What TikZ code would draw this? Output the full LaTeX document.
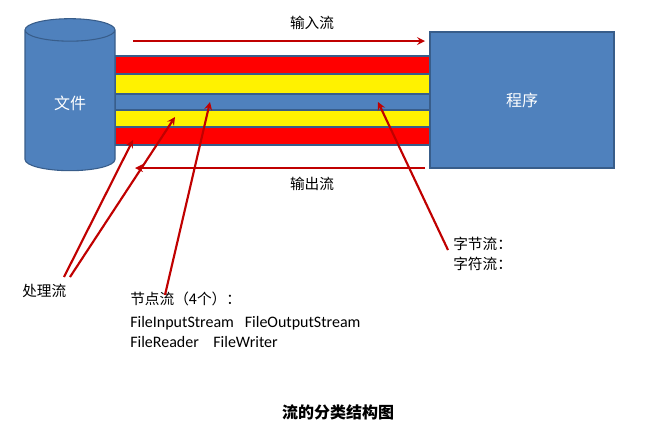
\documentclass[tikz,border=0pt]{standalone}
\usepackage{fontspec}
\setmainfont{Carlito}
\newfontfamily\cjk{Noto Sans CJK SC}
\usetikzlibrary{shapes.geometric}
\definecolor{boxblue}{RGB}{79,129,189}
\definecolor{boxedge}{RGB}{56,93,138}
\definecolor{arrred}{RGB}{192,0,0}
\tikzset{
  stripe/.style={draw=boxedge, line width=0.8pt},
  flow/.style={->, >=stealth, draw=arrred, line width=1.6pt},
  lbl/.style={font=\cjk\fontsize{11}{13}\selectfont, inner sep=0pt}
}
\begin{document}
\begin{tikzpicture}[x=0.75pt, y=-0.75pt]
    \useasboundingbox (0,0) rectangle (648,433);
    % stripes
    \filldraw[stripe, fill=red] (115,56) rectangle (430,74);
    \filldraw[stripe, fill=yellow] (115,74) rectangle (430,94);
    \filldraw[stripe, fill=boxblue] (115,94) rectangle (430,110);
    \filldraw[stripe, fill=yellow] (115,110) rectangle (430,127);
    \filldraw[stripe, fill=red] (115,127) rectangle (430,145);
    % file cylinder
    \node (file) [cylinder, shape border rotate=90, aspect=0.55, draw=boxedge, fill=boxblue, line width=0.8pt,
        minimum width=67.5pt, minimum height=114pt, text=white, font=\cjk\fontsize{12}{14}\selectfont]
        at (70,103) {文件};
    % program box
    \node (prog) [draw=boxedge, fill=boxblue, line width=0.8pt, minimum width=138pt, minimum height=102pt,
        text=white, font=\cjk\fontsize{12}{14}\selectfont] at (522,100) {程序};
    % input / output arrows
    \coordinate (inA) at (133,41);
    \coordinate (inB) at (425,41);
    \coordinate (outA) at (425,168);
    \coordinate (outB) at (135,168);
    \draw[flow] (inA) -- (inB);
    \draw[flow] (outA) -- (outB);
    \node (inlbl) [lbl] at (312,23) {输入流};
    \node (outlbl) [lbl] at (312,184) {输出流};
    % labels
    \node (proc) [lbl, anchor=west] at (22,291) {处理流};
    \node (nodef) [lbl, anchor=north west, align=left] at (130,292)
        {节点流（4个）：\\[4pt]{\fontspec{Carlito}\fontsize{12}{14}\selectfont FileInputStream\ \ \ FileOutputStream}\\[2pt]{\fontspec{Carlito}\fontsize{12}{14}\selectfont FileReader\ \ \ \ FileWriter}};
    \node (bytef) [lbl, anchor=north west, align=left] at (453,237) {字节流：\\[2pt]字符流：};
    \node (title) [lbl, font=\cjk\bfseries\fontsize{12}{14}\selectfont] at (338,412) {流的分类结构图};
    % pointers
    \coordinate (p1) at (133,140);
    \coordinate (p2) at (175,117);
    \coordinate (p3) at (210,102);
    \coordinate (p4) at (378,102);
    \draw[flow] (64,277) -- (p1);
    \draw[flow] (70,277) -- (p2);
    \draw[flow] (165,295) -- (p3);
    \draw[flow] (448,250) -- (p4);
\end{tikzpicture}
\end{document}
